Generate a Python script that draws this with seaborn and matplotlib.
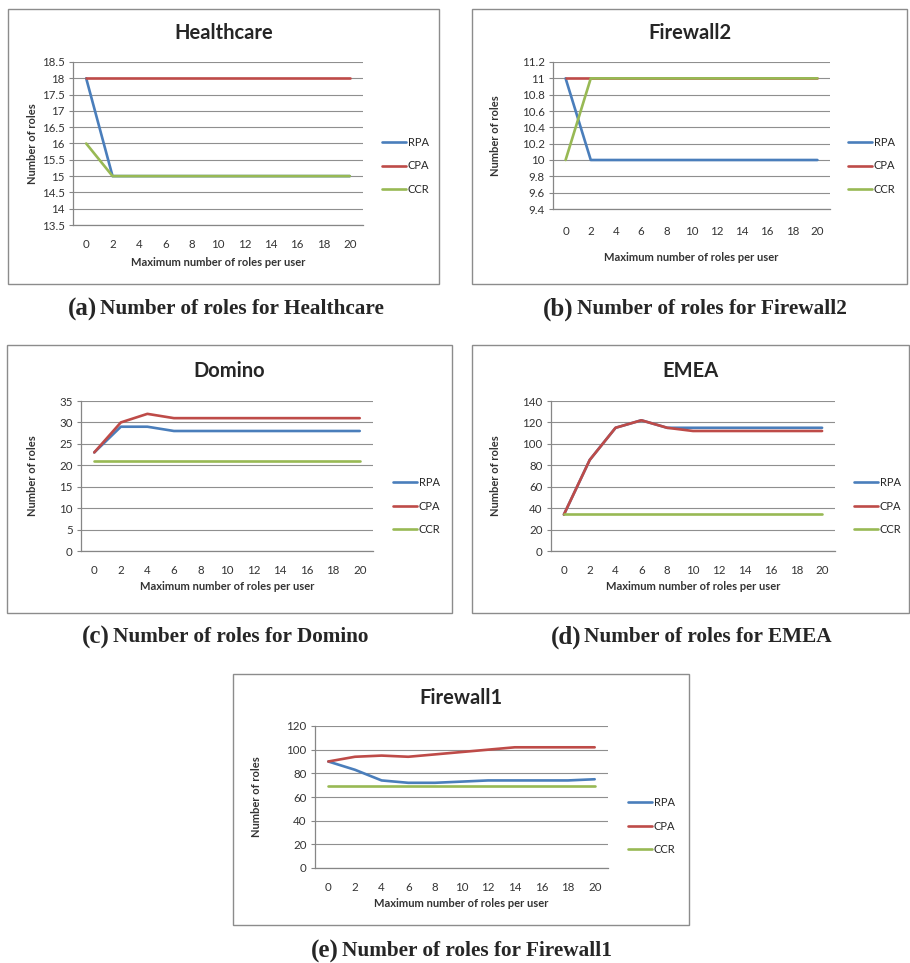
import numpy as np
import matplotlib
matplotlib.use("Agg")
import matplotlib.pyplot as plt
import seaborn as sns
from matplotlib.patches import Rectangle
from matplotlib.ticker import FuncFormatter

# x axis: maximum number of roles per user
max_roles = [0, 2, 4, 6, 8, 10, 12, 14, 16, 18, 20]
series_names = ["RPA", "CPA", "CCR"]

healthcare_rpa = [18, 15, 15, 15, 15, 15, 15, 15, 15, 15, 15]
healthcare_cpa = [18, 18, 18, 18, 18, 18, 18, 18, 18, 18, 18]
healthcare_ccr = [16, 15, 15, 15, 15, 15, 15, 15, 15, 15, 15]

firewall2_rpa = [11, 10, 10, 10, 10, 10, 10, 10, 10, 10, 10]
firewall2_cpa = [11, 11, 11, 11, 11, 11, 11, 11, 11, 11, 11]
firewall2_ccr = [10, 11, 11, 11, 11, 11, 11, 11, 11, 11, 11]

domino_rpa = [23, 29, 29, 28, 28, 28, 28, 28, 28, 28, 28]
domino_cpa = [23, 30, 32, 31, 31, 31, 31, 31, 31, 31, 31]
domino_ccr = [21, 21, 21, 21, 21, 21, 21, 21, 21, 21, 21]

emea_rpa = [34, 85, 115, 122, 115, 115, 115, 115, 115, 115, 115]
emea_cpa = [34, 85, 115, 122, 115, 112, 112, 112, 112, 112, 112]
emea_ccr = [35, 35, 35, 35, 35, 35, 35, 35, 35, 35, 35]

firewall1_rpa = [90, 83, 74, 72, 72, 73, 74, 74, 74, 74, 75]
firewall1_cpa = [90, 94, 95, 94, 96, 98, 100, 102, 102, 102, 102]
firewall1_ccr = [69, 69, 69, 69, 69, 69, 69, 69, 69, 69, 69]

healthcare_yticks = [13.5, 14, 14.5, 15, 15.5, 16, 16.5, 17, 17.5, 18, 18.5]
firewall2_yticks = [9.4, 9.6, 9.8, 10, 10.2, 10.4, 10.6, 10.8, 11, 11.2]
domino_yticks = [0, 5, 10, 15, 20, 25, 30, 35]
emea_yticks = [0, 20, 40, 60, 80, 100, 120, 140]
firewall1_yticks = [0, 20, 40, 60, 80, 100, 120]

colors = ["#4A7EBB", "#BE4B48", "#98B954"]

sns.set_theme(style="white")
plt.rcParams["font.family"] = ["Lato", "DejaVu Sans"]

W, H = 910, 963
fig = plt.figure(figsize=(W / 100, H / 100), dpi=100)


def fx(x):
    return x / W


def fy(y):
    return 1 - y / H


# Draw one Excel style chart panel (pixel coords)
def panel(title, rpa, cpa, ccr, yticks, box, plot, title_y, xt_pad, xlabel_y,
          ylabel_x, legend_x, legend_y):
    bx0, by0, bx1, by1 = box
    fig.add_artist(Rectangle((fx(bx0), fy(by1)), fx(bx1 - bx0), (by1 - by0) / H,
                             transform=fig.transFigure, fill=False,
                             ec="#8c8c8c", lw=1.0))
    px0, py0, px1, py1 = plot
    ax = fig.add_axes([fx(px0), fy(py1), fx(px1 - px0), (py1 - py0) / H])
    for vals, name, c in zip([rpa, cpa, ccr], series_names, colors):
        sns.lineplot(x=max_roles, y=vals, ax=ax, color=c, lw=1.9, label=name)
    ax.set_xlim(-1, 21)
    ax.set_ylim(yticks[0], yticks[-1])
    ax.set_xticks(max_roles)
    ax.set_yticks(yticks)
    ax.yaxis.set_major_formatter(FuncFormatter(lambda v, p: f"{v:g}"))
    ax.tick_params(axis="y", length=3, width=0.8, color="#868686", pad=3,
                   labelsize=8.3, labelcolor="#333333", left=True)
    ax.tick_params(axis="x", length=0, pad=xt_pad, labelsize=8.3,
                   labelcolor="#333333")
    ax.grid(axis="y", color="#8f8f8f", lw=0.8)
    ax.grid(axis="x", visible=False)
    for s in ["top", "right"]:
        ax.spines[s].set_visible(False)
    for s in ["left", "bottom"]:
        ax.spines[s].set_color("#868686")
        ax.spines[s].set_linewidth(0.9)
    ax.set_xlabel("")
    ax.set_ylabel("")
    ax.legend(loc="center left", bbox_to_anchor=(fx(legend_x), fy(legend_y)),
              bbox_transform=fig.transFigure, frameon=False, fontsize=8,
              handlelength=2.2, handletextpad=0.1, labelspacing=1.1,
              borderpad=0, borderaxespad=0)
    cx = (bx0 + bx1) / 2
    fig.text(fx(cx), fy(title_y), title,
             ha="center", va="center", fontsize=14.5, fontweight="bold")
    fig.text(fx((px0 + px1) / 2), fy(xlabel_y), "Maximum number of roles per user",
             ha="center", va="center", fontsize=8, fontweight="bold",
             color="#333333")
    fig.text(fx(ylabel_x), fy((py0 + py1) / 2), "Number of roles", rotation=90,
             ha="center", va="center", fontsize=8, fontweight="bold",
             color="#333333")
    return ax


def caption(tag, text, x, y):
    fig.text(fx(x - 3), fy(y), tag, ha="right", va="center", fontsize=18,
             fontweight="bold", family="Liberation Serif")
    fig.text(fx(x), fy(y), text, ha="left", va="center", fontsize=15.3,
             fontweight="bold", family="Liberation Serif")


panel("Healthcare", healthcare_rpa, healthcare_cpa, healthcare_ccr,
      healthcare_yticks, (8, 9, 439, 284), (73, 62, 363, 225), 33, 10, 262,
      32, 382, 166)
panel("Firewall2", firewall2_rpa, firewall2_cpa, firewall2_ccr,
      firewall2_yticks, (472, 9, 907, 284), (553, 62, 830, 209), 33, 12, 257,
      496, 848, 166)
panel("Domino", domino_rpa, domino_cpa, domino_ccr,
      domino_yticks, (7, 345, 452, 613), (81, 401, 373, 551), 371, 10, 587,
      32, 393, 506)
panel("EMEA", emea_rpa, emea_cpa, emea_ccr,
      emea_yticks, (472, 345, 909, 613), (551, 401, 835, 551), 371, 10, 587,
      496, 854, 506)
panel("Firewall1", firewall1_rpa, firewall1_cpa, firewall1_ccr,
      firewall1_yticks, (233, 674, 689, 925), (315, 726, 608, 868), 698, 10, 903,
      257, 628, 826)

caption("(a)", "Number of roles for Healthcare", 100, 309)
caption("(b)", "Number of roles for Firewall2", 577, 309)
caption("(c)", "Number of roles for Domino", 113, 637)
caption("(d)", "Number of roles for EMEA", 584, 637)
caption("(e)", "Number of roles for Firewall1", 342, 951)

fig.savefig("out.png", dpi=100)
